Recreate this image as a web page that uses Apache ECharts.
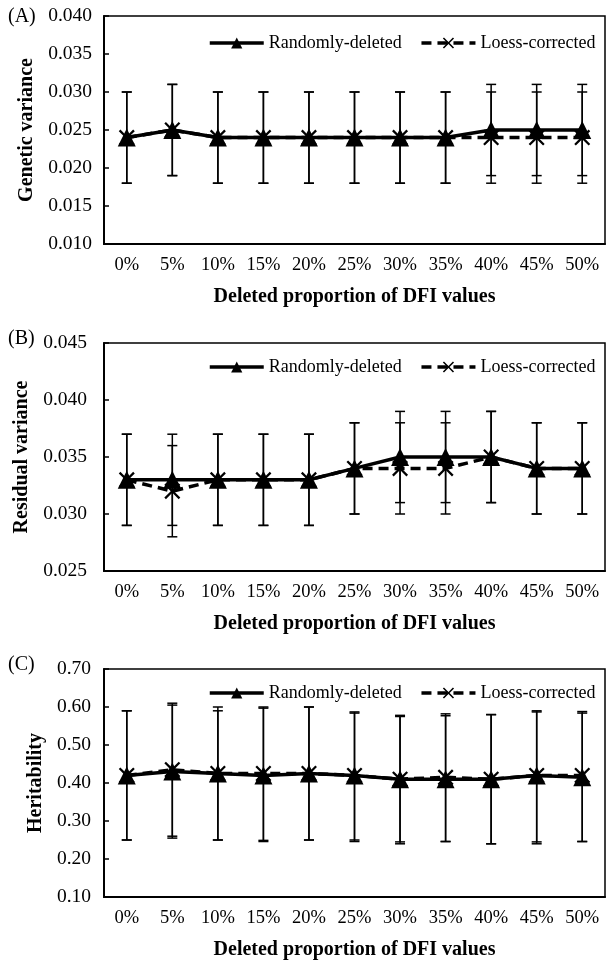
<!DOCTYPE html>
<html><head><meta charset="utf-8">
<script src="https://cdn.jsdelivr.net/npm/echarts/dist/echarts.min.js"></script>
<style>html,body{margin:0;padding:0;background:#fff}#c{width:606px;height:961px}</style>
</head><body><div id="c"></div>
<script>
// ---------- data ----------
const categories = ['0%','5%','10%','15%','20%','25%','30%','35%','40%','45%','50%'];
const seriesNames = ['Randomly-deleted','Loess-corrected'];
const panelLabels = ['(A)','(B)','(C)'];
const yTitles = ['Genetic variance','Residual variance','Heritability'];
const xTitle = 'Deleted proportion of DFI values';

// Panel A: genetic variance
const genRandom   = [0.024,0.025,0.024,0.024,0.024,0.024,0.024,0.024,0.025,0.025,0.025];
const genRandomLo = [0.018,0.019,0.018,0.018,0.018,0.018,0.018,0.018,0.019,0.019,0.019];
const genRandomHi = [0.030,0.031,0.030,0.030,0.030,0.030,0.030,0.030,0.031,0.031,0.031];
const genLoess    = [0.024,0.025,0.024,0.024,0.024,0.024,0.024,0.024,0.024,0.024,0.024];
const genLoessLo  = [0.018,0.019,0.018,0.018,0.018,0.018,0.018,0.018,0.018,0.018,0.018];
const genLoessHi  = [0.030,0.031,0.030,0.030,0.030,0.030,0.030,0.030,0.030,0.030,0.030];

// Panel B: residual variance
const resRandom   = [0.033,0.033,0.033,0.033,0.033,0.034,0.035,0.035,0.035,0.034,0.034];
const resRandomLo = [0.029,0.029,0.029,0.029,0.029,0.030,0.031,0.031,0.031,0.030,0.030];
const resRandomHi = [0.037,0.037,0.037,0.037,0.037,0.038,0.039,0.039,0.039,0.038,0.038];
const resLoess    = [0.033,0.032,0.033,0.033,0.033,0.034,0.034,0.034,0.035,0.034,0.034];
const resLoessLo  = [0.029,0.028,0.029,0.029,0.029,0.030,0.030,0.030,0.031,0.030,0.030];
const resLoessHi  = [0.037,0.036,0.037,0.037,0.037,0.038,0.038,0.038,0.039,0.038,0.038];

// Panel C: heritability
const herRandom   = [0.420,0.430,0.425,0.420,0.425,0.420,0.410,0.410,0.410,0.420,0.415];
const herRandomLo = [0.250,0.255,0.250,0.246,0.250,0.246,0.240,0.246,0.240,0.240,0.246];
const herRandomHi = [0.590,0.605,0.590,0.597,0.600,0.584,0.575,0.577,0.580,0.587,0.584];
const herLoess    = [0.420,0.435,0.425,0.425,0.425,0.420,0.410,0.415,0.410,0.420,0.420];
const herLoessLo  = [0.250,0.260,0.250,0.249,0.250,0.250,0.245,0.246,0.240,0.245,0.246];
const herLoessHi  = [0.590,0.610,0.600,0.600,0.600,0.587,0.578,0.582,0.580,0.590,0.588];

// axis ranges
const yMins = [0.010, 0.025, 0.10];
const yMaxs = [0.040, 0.045, 0.70];
const yIntervals = [0.005, 0.005, 0.10];
const yDecimals = [3, 3, 2];

// ---------- build ----------
const panels = [
  {r:genRandom, rLo:genRandomLo, rHi:genRandomHi, l:genLoess, lLo:genLoessLo, lHi:genLoessHi},
  {r:resRandom, rLo:resRandomLo, rHi:resRandomHi, l:resLoess, lLo:resLoessLo, lHi:resLoessHi},
  {r:herRandom, rLo:herRandomLo, rHi:herRandomHi, l:herLoess, lLo:herLoessLo, lHi:herLoessHi}
];
const FONT = '"Liberation Serif", "Times New Roman", serif';
const gridTops = [16, 343, 669];
const gridH = 228;
const legendTops = [29, 353, 679];
const labelYs = [19, 341, 667];
const yNameGaps = [61, 66, 56];
const yLabelMargins = [12, 17, 13];
const crossPath = 'path://M0,1L1,0L5,4L9,0L10,1L6,5L10,9L9,10L5,6L1,10L0,9L4,5Z';

function errRender(params, api) {
  const x = api.value(0), lo = api.value(1), hi = api.value(2);
  const p1 = api.coord([x, lo]), p2 = api.coord([x, hi]);
  const w = 5;
  const st = {stroke:'#000', lineWidth:1.5};
  return {type:'group', children:[
    {type:'line', shape:{x1:p1[0],y1:p1[1],x2:p2[0],y2:p2[1]}, style:st},
    {type:'line', shape:{x1:p1[0]-w,y1:p1[1],x2:p1[0]+w,y2:p1[1]}, style:st},
    {type:'line', shape:{x1:p2[0]-w,y1:p2[1],x2:p2[0]+w,y2:p2[1]}, style:st}
  ]};
}

const grids = [], xAxes = [], yAxes = [], series = [], legends = [], graphics = [];
panels.forEach((p, i) => {
  grids.push({left:104, right:1, top:gridTops[i], height:gridH, show:true,
    borderColor:'#000', borderWidth:1.5, backgroundColor:'transparent'});
  xAxes.push({type:'category', gridIndex:i, data:categories, boundaryGap:true,
    axisLine:{lineStyle:{color:'#000', width:2}},
    axisTick:{inside:true, length:5, lineStyle:{color:'#000', width:1.5}},
    axisLabel:{color:'#000', fontFamily:FONT, fontSize:18.5, margin:12},
    name:xTitle, nameLocation:'middle', nameGap:43,
    nameTextStyle:{color:'#000', fontFamily:FONT, fontSize:20, fontWeight:'bold'}});
  yAxes.push({type:'value', gridIndex:i, min:yMins[i], max:yMaxs[i], interval:yIntervals[i],
    splitLine:{show:false},
    axisLine:{show:true, lineStyle:{color:'#000', width:2}},
    axisTick:{show:true, inside:true, length:5, lineStyle:{color:'#000', width:1.5}},
    axisLabel:{color:'#000', fontFamily:FONT, fontSize:19.5, margin:yLabelMargins[i],
      formatter: v => v.toFixed(yDecimals[i])},
    name:yTitles[i], nameLocation:'middle', nameGap:yNameGaps[i], nameRotate:90,
    nameTextStyle:{color:'#000', fontFamily:FONT, fontSize:20, fontWeight:'bold'}});
  const mk = (lo, hi) => lo.map((v, k) => [k, v, hi[k]]);
  series.push({type:'custom', xAxisIndex:i, yAxisIndex:i, renderItem:errRender,
    data:mk(p.rLo, p.rHi), encode:{x:0, y:[1,2]}, z:1, silent:true});
  series.push({type:'custom', xAxisIndex:i, yAxisIndex:i, renderItem:errRender,
    data:mk(p.lLo, p.lHi), encode:{x:0, y:[1,2]}, z:1, silent:true});
  series.push({name:seriesNames[1], type:'line', xAxisIndex:i, yAxisIndex:i, data:p.l,
    symbol:crossPath, symbolSize:16, showAllSymbol:true, z:3,
    lineStyle:{color:'#000', width:3.5, type:[10,6]},
    itemStyle:{color:'#000'}});
  series.push({name:seriesNames[0], type:'line', xAxisIndex:i, yAxisIndex:i, data:p.r,
    symbol:'triangle', symbolSize:18, showAllSymbol:true, z:4,
    lineStyle:{color:'#000', width:3.5, type:'solid'},
    itemStyle:{color:'#000'}});
  legends.push({left:203, top:legendTops[i], itemWidth:54, itemHeight:14, itemGap:18,
    selectedMode:false, data:seriesNames,
    lineStyle:{width:3.5},
    textStyle:{color:'#000', fontFamily:FONT, fontSize:18}});
  graphics.push({type:'text', left:8, top:labelYs[i]-12,
    style:{text:panelLabels[i], fill:'#000', font:'20px ' + FONT}});
});

const chart = echarts.init(document.getElementById('c'), null, {renderer:'canvas'});
chart.setOption({
  animation:false,
  backgroundColor:'#fff',
  grid:grids, xAxis:xAxes, yAxis:yAxes, series:series, legend:legends, graphic:graphics
});
</script>
</body></html>
